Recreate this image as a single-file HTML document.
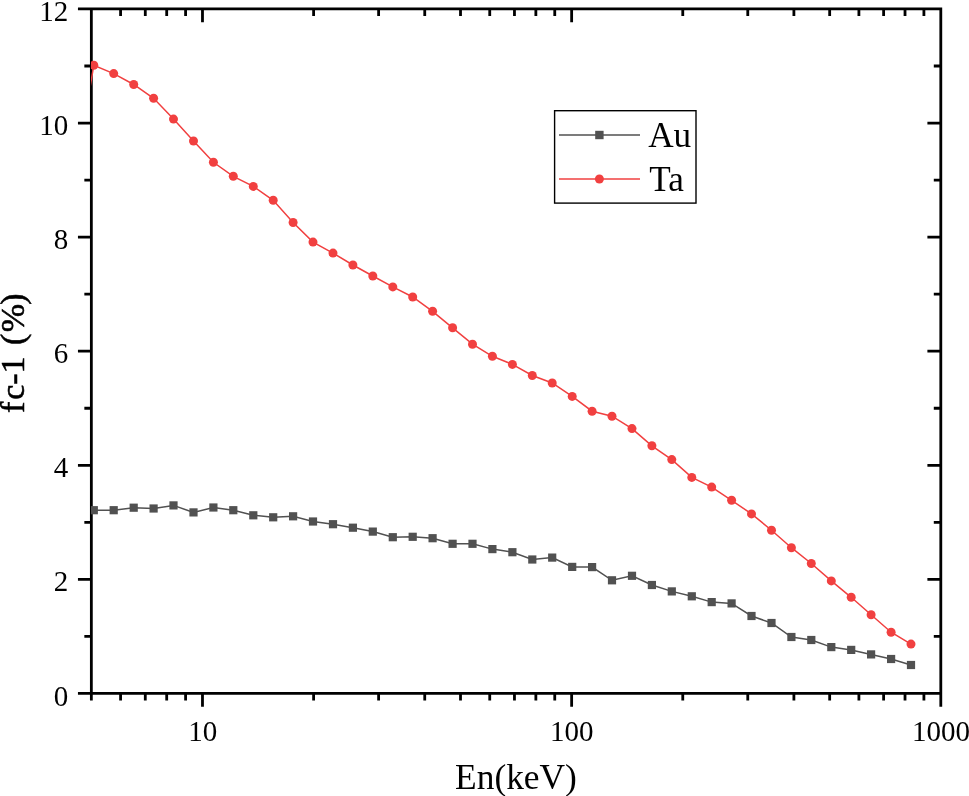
<!DOCTYPE html>
<html lang="en"><head><meta charset="utf-8"><title>fc-1 (%) vs En(keV)</title>
<style>html,body{margin:0;padding:0;background:#fff}svg{display:block}text{font-family:"Liberation Serif","Times New Roman",serif;fill:#000}</style></head><body>
<svg width="969" height="796" viewBox="0 0 969 796">
<rect width="969" height="796" fill="#fff"/>
<defs><clipPath id="c"><rect x="90.95" y="8.95" width="849.85" height="684.50"/></clipPath></defs>
<g stroke="#000" stroke-width="2.8" fill="none" stroke-linecap="butt">
<path d="M77.95 8.95H942.20M77.95 693.45H942.20M91.35 7.55V700.45M940.80 7.55V706.85"/>
<path d="M84.35 636.41H91.35M933.80 636.41H940.80M77.95 579.37H91.35M927.40 579.37H940.80M84.35 522.33H91.35M933.80 522.33H940.80M77.95 465.28H91.35M927.40 465.28H940.80M84.35 408.24H91.35M933.80 408.24H940.80M77.95 351.20H91.35M927.40 351.20H940.80M84.35 294.16H91.35M933.80 294.16H940.80M77.95 237.12H91.35M927.40 237.12H940.80M84.35 180.08H91.35M933.80 180.08H940.80M77.95 123.03H91.35M927.40 123.03H940.80M84.35 65.99H91.35M933.80 65.99H940.80M120.58 693.45V700.45M120.58 8.95V15.95M145.29 693.45V700.45M145.29 8.95V15.95M166.70 693.45V700.45M166.70 8.95V15.95M185.59 693.45V700.45M185.59 8.95V15.95M202.48 693.45V706.85M202.48 8.95V22.35M313.61 693.45V700.45M313.61 8.95V15.95M378.61 693.45V700.45M378.61 8.95V15.95M424.74 693.45V700.45M424.74 8.95V15.95M460.51 693.45V700.45M460.51 8.95V15.95M489.74 693.45V700.45M489.74 8.95V15.95M514.46 693.45V700.45M514.46 8.95V15.95M535.86 693.45V700.45M535.86 8.95V15.95M554.75 693.45V700.45M554.75 8.95V15.95M571.64 693.45V706.85M571.64 8.95V22.35M682.77 693.45V700.45M682.77 8.95V15.95M747.77 693.45V700.45M747.77 8.95V15.95M793.90 693.45V700.45M793.90 8.95V15.95M829.67 693.45V700.45M829.67 8.95V15.95M858.90 693.45V700.45M858.90 8.95V15.95M883.62 693.45V700.45M883.62 8.95V15.95M905.02 693.45V700.45M905.02 8.95V15.95M923.91 693.45V700.45M923.91 8.95V15.95"/>
</g>
<g clip-path="url(#c)">
<polyline points="93.8,510.2 113.7,510.2 133.7,507.7 153.6,508.5 173.5,505.4 193.5,512.4 213.4,507.5 233.3,510.2 253.3,515.3 273.2,517.3 293.1,516.3 313.0,521.5 333.0,524.2 352.9,527.7 372.8,531.6 392.8,537.2 412.7,536.8 432.6,538.2 452.6,543.8 472.5,543.8 492.4,549.1 512.4,552.2 532.3,559.5 552.2,557.6 572.2,566.9 592.1,567.1 612.0,580.3 632.0,575.8 651.9,585.0 671.8,591.4 691.8,596.3 711.7,602.1 731.6,603.4 751.5,616.0 771.5,623.0 791.4,637.0 811.3,640.0 831.3,647.1 851.2,649.9 871.1,654.4 891.1,659.0 911.0,665.0" fill="none" stroke="#515151" stroke-width="1.5"/>
<g fill="#515151"><rect x="89.7" y="506.1" width="8.2" height="8.2"/><rect x="109.6" y="506.1" width="8.2" height="8.2"/><rect x="129.6" y="503.6" width="8.2" height="8.2"/><rect x="149.5" y="504.4" width="8.2" height="8.2"/><rect x="169.4" y="501.3" width="8.2" height="8.2"/><rect x="189.4" y="508.3" width="8.2" height="8.2"/><rect x="209.3" y="503.4" width="8.2" height="8.2"/><rect x="229.2" y="506.1" width="8.2" height="8.2"/><rect x="249.2" y="511.2" width="8.2" height="8.2"/><rect x="269.1" y="513.2" width="8.2" height="8.2"/><rect x="289.0" y="512.2" width="8.2" height="8.2"/><rect x="308.9" y="517.4" width="8.2" height="8.2"/><rect x="328.9" y="520.1" width="8.2" height="8.2"/><rect x="348.8" y="523.6" width="8.2" height="8.2"/><rect x="368.7" y="527.5" width="8.2" height="8.2"/><rect x="388.7" y="533.1" width="8.2" height="8.2"/><rect x="408.6" y="532.7" width="8.2" height="8.2"/><rect x="428.5" y="534.1" width="8.2" height="8.2"/><rect x="448.5" y="539.7" width="8.2" height="8.2"/><rect x="468.4" y="539.7" width="8.2" height="8.2"/><rect x="488.3" y="545.0" width="8.2" height="8.2"/><rect x="508.3" y="548.1" width="8.2" height="8.2"/><rect x="528.2" y="555.4" width="8.2" height="8.2"/><rect x="548.1" y="553.5" width="8.2" height="8.2"/><rect x="568.1" y="562.8" width="8.2" height="8.2"/><rect x="588.0" y="563.0" width="8.2" height="8.2"/><rect x="607.9" y="576.2" width="8.2" height="8.2"/><rect x="627.9" y="571.7" width="8.2" height="8.2"/><rect x="647.8" y="580.9" width="8.2" height="8.2"/><rect x="667.7" y="587.3" width="8.2" height="8.2"/><rect x="687.7" y="592.2" width="8.2" height="8.2"/><rect x="707.6" y="598.0" width="8.2" height="8.2"/><rect x="727.5" y="599.3" width="8.2" height="8.2"/><rect x="747.4" y="611.9" width="8.2" height="8.2"/><rect x="767.4" y="618.9" width="8.2" height="8.2"/><rect x="787.3" y="632.9" width="8.2" height="8.2"/><rect x="807.2" y="635.9" width="8.2" height="8.2"/><rect x="827.2" y="643.0" width="8.2" height="8.2"/><rect x="847.1" y="645.8" width="8.2" height="8.2"/><rect x="867.0" y="650.3" width="8.2" height="8.2"/><rect x="887.0" y="654.9" width="8.2" height="8.2"/><rect x="906.9" y="660.9" width="8.2" height="8.2"/></g>
<polyline points="89.5,90.6 93.8,65.2 113.7,73.6 133.7,84.5 153.6,98.3 173.5,119.1 193.5,141.0 213.4,162.3 233.3,176.3 253.3,186.4 273.2,200.3 293.1,222.5 313.0,242.1 333.0,253.1 352.9,265.0 372.8,276.0 392.8,286.9 412.7,297.0 432.6,311.3 452.6,327.8 472.5,344.2 492.4,356.3 512.4,364.4 532.3,375.5 552.2,383.0 572.2,396.4 592.1,411.2 612.0,416.2 632.0,428.6 651.9,445.8 671.8,459.6 691.8,477.4 711.7,487.1 731.6,500.3 751.5,513.9 771.5,530.2 791.4,547.7 811.3,563.5 831.3,580.9 851.2,597.3 871.1,614.7 891.1,632.2 911.0,644.1" fill="none" stroke="#F14040" stroke-width="1.5"/>
<g fill="#F14040"><circle cx="93.8" cy="65.2" r="4.5"/><circle cx="113.7" cy="73.6" r="4.5"/><circle cx="133.7" cy="84.5" r="4.5"/><circle cx="153.6" cy="98.3" r="4.5"/><circle cx="173.5" cy="119.1" r="4.5"/><circle cx="193.5" cy="141.0" r="4.5"/><circle cx="213.4" cy="162.3" r="4.5"/><circle cx="233.3" cy="176.3" r="4.5"/><circle cx="253.3" cy="186.4" r="4.5"/><circle cx="273.2" cy="200.3" r="4.5"/><circle cx="293.1" cy="222.5" r="4.5"/><circle cx="313.0" cy="242.1" r="4.5"/><circle cx="333.0" cy="253.1" r="4.5"/><circle cx="352.9" cy="265.0" r="4.5"/><circle cx="372.8" cy="276.0" r="4.5"/><circle cx="392.8" cy="286.9" r="4.5"/><circle cx="412.7" cy="297.0" r="4.5"/><circle cx="432.6" cy="311.3" r="4.5"/><circle cx="452.6" cy="327.8" r="4.5"/><circle cx="472.5" cy="344.2" r="4.5"/><circle cx="492.4" cy="356.3" r="4.5"/><circle cx="512.4" cy="364.4" r="4.5"/><circle cx="532.3" cy="375.5" r="4.5"/><circle cx="552.2" cy="383.0" r="4.5"/><circle cx="572.2" cy="396.4" r="4.5"/><circle cx="592.1" cy="411.2" r="4.5"/><circle cx="612.0" cy="416.2" r="4.5"/><circle cx="632.0" cy="428.6" r="4.5"/><circle cx="651.9" cy="445.8" r="4.5"/><circle cx="671.8" cy="459.6" r="4.5"/><circle cx="691.8" cy="477.4" r="4.5"/><circle cx="711.7" cy="487.1" r="4.5"/><circle cx="731.6" cy="500.3" r="4.5"/><circle cx="751.5" cy="513.9" r="4.5"/><circle cx="771.5" cy="530.2" r="4.5"/><circle cx="791.4" cy="547.7" r="4.5"/><circle cx="811.3" cy="563.5" r="4.5"/><circle cx="831.3" cy="580.9" r="4.5"/><circle cx="851.2" cy="597.3" r="4.5"/><circle cx="871.1" cy="614.7" r="4.5"/><circle cx="891.1" cy="632.2" r="4.5"/><circle cx="911.0" cy="644.1" r="4.5"/></g>
</g>
<g font-size="29" text-anchor="end">
<text transform="translate(68.2 705.5) scale(1 1.05)">0</text>
<text transform="translate(68.2 591.4) scale(1 1.05)">2</text>
<text transform="translate(68.2 477.3) scale(1 1.05)">4</text>
<text transform="translate(68.2 363.2) scale(1 1.05)">6</text>
<text transform="translate(68.2 249.1) scale(1 1.05)">8</text>
<text transform="translate(68.2 135.0) scale(1 1.05)">10</text>
<text transform="translate(68.2 21.0) scale(1 1.05)">12</text>
</g>
<g font-size="29" text-anchor="middle">
<text transform="translate(202.7 740.6) scale(1 1.05)">10</text>
<text transform="translate(571.8 740.6) scale(1 1.05)">100</text>
<text transform="translate(941.0 740.6) scale(1 1.05)">1000</text>
</g>
<text x="516" y="788.5" font-size="35.4" text-anchor="middle">En(keV)</text>
<text transform="translate(24.1 413) rotate(-90)" font-size="34" stroke="#000" stroke-width="0.55" x="0 13.2 28.2 39.4 56 67.9 80.8 108.3">fc-1 (%)</text>
<rect x="554.6" y="110.7" width="141.4" height="92.4" fill="#fff" stroke="#000" stroke-width="1.4"/>
<path d="M559 135H640" stroke="#515151" stroke-width="1.5"/><rect x="595.2" y="130.8" width="8.4" height="8.4" fill="#515151"/>
<path d="M559 179H640" stroke="#F14040" stroke-width="1.5"/><circle cx="599.4" cy="179" r="4.5" fill="#F14040"/>
<text x="648.2" y="147" font-size="35.2">Au</text>
<text x="649.2" y="191" font-size="35.2">Ta</text>
</svg></body></html>
